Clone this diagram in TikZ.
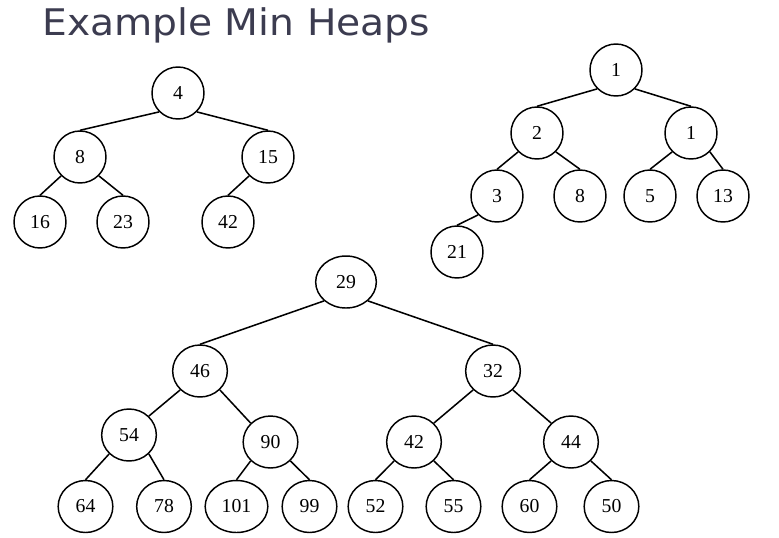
\documentclass[tikz,border=0pt]{standalone}
\usepackage{fontspec}
\setmainfont{Liberation Serif}
\newfontfamily\titlefont{DejaVu Sans}
\usetikzlibrary{shapes.geometric}
\definecolor{titlecol}{RGB}{60,60,80}
\tikzset{
  hnode/.style={circle,draw=black,line width=1.1pt,minimum size=39pt,inner sep=0pt,font=\fontsize{14.8}{16}\selectfont},
  enode/.style={ellipse,draw=black,line width=1.1pt,minimum width=41pt,minimum height=39pt,inner sep=0pt,font=\fontsize{14.8}{16}\selectfont},
  hedge/.style={draw=black,line width=1.15pt}
}
\begin{document}
\begin{tikzpicture}[x=0.75pt,y=-0.75pt]
\useasboundingbox (0,0) rectangle (779,537);
\node[anchor=base west,inner sep=0pt,text=titlecol,font=\titlefont\fontsize{27.5}{30}\selectfont] (title) at (42,35) {\scalebox{1.07}[1]{Example Min Heaps}};
% Tree 1
\node[hnode] (a4) at (178,93) {4};
\node[hnode] (a8) at (80,157) {8};
\node[hnode] (a15) at (268,157) {15};
\node[hnode] (a16) at (40,222) {16};
\node[hnode] (a23) at (123,222) {23};
\node[hnode] (a42) at (228,222) {42};
\draw[hedge] (a4.south west) -- (a8.north);
\draw[hedge] (a4.south east) -- (a15.north);
\draw[hedge] (a8.south west) -- (a16.north);
\draw[hedge] (a8.south east) -- (a23.north);
\draw[hedge] (a15.south west) -- (a42.north);
% Tree 2
\node[hnode] (b1) at (616,70) {1};
\node[hnode] (b2) at (537,133) {2};
\node[hnode] (b1r) at (691,133) {1};
\node[hnode] (b3) at (497,196) {3};
\node[hnode] (b8) at (580,196) {8};
\node[hnode] (b5) at (650,196) {5};
\node[hnode] (b13) at (723,196) {13};
\node[hnode] (b21) at (457,252) {21};
\draw[hedge] (b1.south west) -- (b2.north);
\draw[hedge] (b1.south east) -- (b1r.north);
\draw[hedge] (b2.south west) -- (b3.north);
\draw[hedge] (b2.south east) -- (b8.north);
\draw[hedge] (b1r.south west) -- (b5.north);
\draw[hedge] (b1r.south east) -- (b13.north);
\draw[hedge] (b3.south west) -- (b21.north);
% Tree 3
\node[enode,minimum width=45.5pt] (c29) at (346,282) {29};
\node[enode] (c46) at (200,371) {46};
\node[enode] (c32) at (493,371) {32};
\node[enode] (c54) at (129,435) {54};
\node[enode] (c90) at (270.5,442) {90};
\node[enode] (c42) at (414,442) {42};
\node[enode] (c44) at (571,442) {44};
\node[enode] (c64) at (85.5,506.5) {64};
\node[enode] (c78) at (164,506.5) {78};
\node[enode,minimum width=47pt] (c101) at (236.5,506.5) {101};
\node[enode] (c99) at (309.5,506.5) {99};
\node[enode] (c52) at (375.5,506.5) {52};
\node[enode] (c55) at (453.5,506.5) {55};
\node[enode] (c60) at (529.5,506.5) {60};
\node[enode] (c50) at (611.5,506.5) {50};
\draw[hedge] (c29.south west) -- (c46.north);
\draw[hedge] (c29.south east) -- (c32.north);
\draw[hedge] (c46.south west) -- (c54.north east);
\draw[hedge] (c46.south east) -- (c90.north west);
\draw[hedge] (c32.south west) -- (c42.north east);
\draw[hedge] (c32.south east) -- (c44.north west);
\draw[hedge] (c54.south west) -- (c64.north);
\draw[hedge] (c54.south east) -- (c78.north);
\draw[hedge] (c90.south west) -- (c101.north);
\draw[hedge] (c90.south east) -- (c99.north);
\draw[hedge] (c42.south west) -- (c52.north);
\draw[hedge] (c42.south east) -- (c55.north);
\draw[hedge] (c44.south west) -- (c60.north);
\draw[hedge] (c44.south east) -- (c50.north);
\end{tikzpicture}
\end{document}
